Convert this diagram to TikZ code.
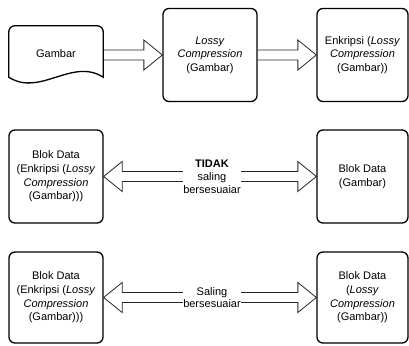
\documentclass[tikz,border=0pt]{standalone}
\usepackage{fontspec}
\setmainfont{Liberation Sans}
\usetikzlibrary{calc}

\tikzset{
  blok/.style={draw, line width=1.3pt, rounded corners=6pt, minimum width=94pt, minimum height=93pt,
    align=center, inner sep=2pt, font=\fontsize{11}{13.6}\selectfont},
  panah/.style={draw=black!85, line width=0.8pt},
  ket/.style={fill=white, inner sep=0pt, align=center, font=\fontsize{11}{12.8}\selectfont}
}
% block arrows between two anchors
\newcommand{\panahsatu}[2]{\draw[panah] ($(#1)+(0,-5)$) -- ($(#2)+(-18.5,-5)$) -- ($(#2)+(-18.5,-15)$) -- (#2)
  -- ($(#2)+(-18.5,15)$) -- ($(#2)+(-18.5,5)$) -- ($(#1)+(0,5)$);}
\newcommand{\panahdua}[2]{\draw[panah] (#1) -- ($(#1)+(18.5,-15)$) -- ($(#1)+(18.5,-5)$) -- ($(#2)+(-18.5,-5)$)
  -- ($(#2)+(-18.5,-15)$) -- (#2) -- ($(#2)+(-18.5,15)$) -- ($(#2)+(-18.5,5)$) -- ($(#1)+(18.5,5)$)
  -- ($(#1)+(18.5,15)$) -- cycle;}

\begin{document}
\begin{tikzpicture}[x=1pt,y=-1pt]
\useasboundingbox (0,0) rectangle (409,345);

% row 1
\node[font=\fontsize{11}{13.6}\selectfont, minimum width=94pt, minimum height=58pt, inner sep=0pt] (gambar) at (56,55) {\raisebox{2pt}{Gambar}};
\draw[line width=1.3pt] ($(gambar.south west)+(0,-7)$) [rounded corners=6pt] -- (gambar.north west) -- (gambar.north east) [sharp corners]
  -- ($(gambar.south east)+(0,-7)$) .. controls ($(gambar.south east)+(-31,-27)$) and ($(gambar.south west)+(31,13)$) .. ($(gambar.south west)+(0,-7)$) -- cycle;
\node[blok] (lossy) at (210,55) {\textit{Lossy}\\\textit{Compression}\\(Gambar)};
\node[blok, minimum width=91pt] (enkripsi) at (362.5,55) {Enkripsi (\textit{Lossy}\\\textit{Compression}\\(Gambar))};
\panahsatu{gambar.east}{lossy.west}
\panahsatu{lossy.east}{enkripsi.west}

% row 2
\node[blok] (blokenk) at (56,176.5) {Blok Data\\(Enkripsi (\textit{Lossy}\\\textit{Compression}\\(Gambar)))};
\node[blok, minimum width=91pt] (blokgambar) at (362.5,176.5) {Blok Data\\(Gambar)};
\panahdua{blokenk.east}{blokgambar.west}
\node[ket] (tidak) at ($(blokenk.east)!0.5!(blokgambar.west)+(2,0)$) {\textbf{TIDAK}\\saling\\bersesuaiar};

% row 3
\node[blok, minimum height=91pt] (blokenkb) at (56,297.5) {Blok Data\\(Enkripsi (\textit{Lossy}\\\textit{Compression}\\(Gambar)))};
\node[blok, minimum height=91pt, minimum width=91pt] (bloklossy) at (362.5,297.5) {Blok Data\\(\textit{Lossy}\\\textit{Compression}\\(Gambar))};
\panahdua{blokenkb.east}{bloklossy.west}
\node[ket] (sesuai) at ($(blokenkb.east)!0.5!(bloklossy.west)+(2,0)$) {Saling\\bersesuaiar};

\end{tikzpicture}
\end{document}
